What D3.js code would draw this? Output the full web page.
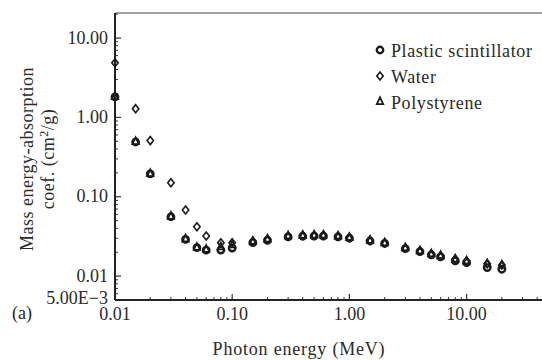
<!DOCTYPE html>
<html>
<head>
<meta charset="utf-8">
<script src="https://cdn.jsdelivr.net/npm/d3@7"></script>
<style>
  body { margin: 0; background: #fff; }
  text { font-family: "Liberation Serif", "DejaVu Serif", serif; fill: #2a2a2a; }
</style>
</head>
<body>
<svg id="chart" width="542" height="360"></svg>
<script>
// Photon energy (MeV)
const energy = [0.01, 0.015, 0.02, 0.03, 0.04, 0.05, 0.06, 0.08, 0.1, 0.15, 0.2, 0.3, 0.4, 0.5, 0.6, 0.8, 1, 1.5, 2, 3, 4, 5, 6, 8, 10, 15, 20];
// Mass energy-absorption coefficient (cm2/g)
const plastic = [1.81, 0.49, 0.194, 0.056, 0.0291, 0.0228, 0.0213, 0.0213, 0.0226, 0.0265, 0.0283, 0.0312, 0.0318, 0.032, 0.032, 0.0312, 0.030, 0.0277, 0.0258, 0.0222, 0.0203, 0.0185, 0.0175, 0.0156, 0.0148, 0.0128, 0.0122];
const water = [4.87, 1.29, 0.51, 0.150, 0.068, 0.042, 0.0321, 0.0264, 0.0264, 0.0275, 0.0292, 0.0318, 0.0325, 0.0328, 0.0327, 0.0318, 0.0307, 0.0282, 0.0262, 0.0226, 0.0207, 0.019, 0.018, 0.0164, 0.0155, 0.0143, 0.0138];
const polystyrene = [1.81, 0.49, 0.194, 0.056, 0.0291, 0.0228, 0.0215, 0.0232, 0.0245, 0.0272, 0.029, 0.0318, 0.0322, 0.0325, 0.0325, 0.0316, 0.0303, 0.028, 0.026, 0.0225, 0.0206, 0.0189, 0.0179, 0.0162, 0.0153, 0.0141, 0.0136];

const xTicks = [0.01, 0.1, 1, 10];
const xTickLabels = ["0.01", "0.10", "1.00", "10.00"];
const yTicks = [0.005, 0.01, 0.1, 1, 10];
const yTickLabels = ["5.00E\u22123", "0.01", "0.10", "1.00", "10.00"];
const seriesNames = ["Plastic scintillator", "Water", "Polystyrene"];

const svg = d3.select("#chart");
const margin = { left: 115, top: 13, right: 0, bottom: 60 };
const width = 542, height = 360;

const x = d3.scaleLog().domain([0.01, 44]).range([margin.left, width - margin.right]);
const y = d3.scaleLog().domain([0.005, 20.7]).range([height - margin.bottom, margin.top]);

const g = svg.append("g");

// minor ticks
const xMinor = [];
for (let d = 0.01; d < 40; d *= 10) for (let k = 2; k <= 9; k++) if (d * k <= 44) xMinor.push(d * k);
const yMinor = [];
for (let d = 0.001; d < 20; d *= 10) for (let k = 2; k <= 9; k++) if (d * k >= 0.005 && d * k <= 20) yMinor.push(d * k);

const y0 = y(0.005), x0 = x(0.01);

g.selectAll(".xminor").data(xMinor).enter().append("line")
  .attr("x1", d => x(d)).attr("x2", d => x(d))
  .attr("y1", y0).attr("y2", y0 - 3)
  .attr("stroke", "#333").attr("stroke-width", 1);
g.selectAll(".xmajor").data(xTicks).enter().append("line")
  .attr("x1", d => x(d)).attr("x2", d => x(d))
  .attr("y1", y0).attr("y2", y0 - 6)
  .attr("stroke", "#333").attr("stroke-width", 1.2);

g.selectAll(".yminor").data(yMinor).enter().append("line")
  .attr("x1", x0).attr("x2", x0 + 3)
  .attr("y1", d => y(d)).attr("y2", d => y(d))
  .attr("stroke", "#333").attr("stroke-width", 1);
g.selectAll(".ymajor").data(yTicks).enter().append("line")
  .attr("x1", x0).attr("x2", x0 + 6)
  .attr("y1", d => y(d)).attr("y2", d => y(d))
  .attr("stroke", "#333").attr("stroke-width", 1.2);

// axis frame: left, bottom, top
g.append("line").attr("x1", x0).attr("x2", width).attr("y1", y0).attr("y2", y0)
  .attr("stroke", "#222").attr("stroke-width", 2);
g.append("line").attr("x1", x0).attr("x2", x0).attr("y1", margin.top).attr("y2", y0)
  .attr("stroke", "#222").attr("stroke-width", 2);
g.append("line").attr("x1", x0).attr("x2", width).attr("y1", margin.top).attr("y2", margin.top)
  .attr("stroke", "#444").attr("stroke-width", 1);

// tick labels
g.selectAll(".xlab").data(xTicks).enter().append("text")
  .attr("x", d => x(d)).attr("y", 320)
  .attr("text-anchor", "middle").attr("font-size", 18)
  .text((d, i) => xTickLabels[i]);
g.selectAll(".ylab").data(yTicks).enter().append("text")
  .attr("x", 108).attr("y", d => y(d) + (d === 0.005 ? 4 : 5.5))
  .attr("text-anchor", "end").attr("font-size", 18)
  .text((d, i) => yTickLabels[i]);

// axis titles
svg.append("text").attr("x", 299).attr("y", 355)
  .attr("text-anchor", "middle").attr("font-size", 18).attr("letter-spacing", 0.8)
  .text("Photon energy (MeV)");
const yt = svg.append("text").attr("transform", "translate(33,159) rotate(-90)")
  .attr("text-anchor", "middle").attr("font-size", 18).attr("letter-spacing", 0.5);
yt.append("tspan").attr("x", 0).attr("dy", 0).text("Mass energy-absorption");
const l2 = yt.append("tspan").attr("x", 0).attr("dy", 21).text("coef. (cm");
l2.append("tspan").attr("font-size", 12).attr("dy", -6).text("2");
l2.append("tspan").attr("dy", 6).text("/g)");
svg.append("text").attr("x", 12).attr("y", 319).attr("font-size", 18).text("(a)");

// markers
const circle = (sel, cx, cy) => sel.append("circle").attr("cx", cx).attr("cy", cy).attr("r", 3.2)
  .attr("fill", "none").attr("stroke", "#1a1a1a").attr("stroke-width", 2.4);
const diamond = (sel, cx, cy) => sel.append("path")
  .attr("d", `M${cx},${cy - 4}L${cx + 3.2},${cy}L${cx},${cy + 4}L${cx - 3.2},${cy}Z`)
  .attr("fill", "none").attr("stroke", "#1a1a1a").attr("stroke-width", 1.6);
const triangle = (sel, cx, cy) => sel.append("path")
  .attr("d", `M${cx},${cy - 4.6}L${cx + 3.2},${cy + 2.2}L${cx - 3.2},${cy + 2.2}Z`)
  .attr("fill", "none").attr("stroke", "#1a1a1a").attr("stroke-width", 1.8);

const pts = svg.append("g");
energy.forEach((e, i) => diamond(pts, x(e), y(water[i])));
energy.forEach((e, i) => triangle(pts, x(e), y(polystyrene[i])));
energy.forEach((e, i) => circle(pts, x(e), y(plastic[i])));

// legend
const markers = [circle, diamond, triangle];
const legend = svg.append("g");
seriesNames.forEach((name, i) => {
  const ly = 50 + i * 26;
  markers[i](legend, 380, ly);
  legend.append("text").attr("x", 391).attr("y", ly + 6.5)
    .attr("font-size", 18).attr("letter-spacing", 0.6).text(name);
});
</script>
</body>
</html>
